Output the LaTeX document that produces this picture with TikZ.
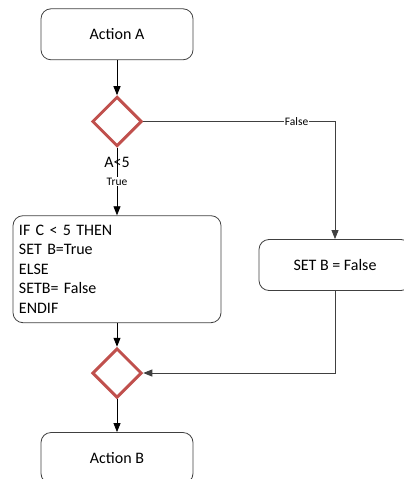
\documentclass[tikz,border=0pt]{standalone}
\usepackage{fontspec}
\setmainfont{Carlito}
\usetikzlibrary{shapes.geometric,arrows.meta,positioning}
\definecolor{ddred}{HTML}{C0504D}

\begin{document}
\begin{tikzpicture}[x=1bp,y=-1bp,on grid,>={Triangle[length=9bp,width=7bp]},
    font=\fontsize{16bp}{19.5bp}\selectfont,
    action/.style={draw=black!75,line width=0.8bp,rounded corners=10bp,
        minimum width=152bp,minimum height=51bp,inner sep=0pt},
    decision/.style={diamond,draw=ddred,line width=3bp,
        minimum width=49.5bp,minimum height=49.5bp,inner sep=0pt},
    small/.style={font=\fontsize{11.5bp}{13bp}\selectfont,fill=white,inner sep=1bp}]
                        % \draw[help lines] (0,0) grid (403,479);
                        \useasboundingbox (0,0) rectangle (403,479);

                        \node[action]   (A) at (117,34.3)          {Action A};
                        \node[decision] (d1) [below=87.2bp of A]   {};
                        \node           (cond) [below=41bp of d1]  {A<5};
                        \node[action,text width=196bp,inner xsep=6bp,align=left,minimum height=107bp]
                                        (if) [below=147.7bp of d1] {IF C < 5 THEN\\SET B=True\\ELSE\\SETB= False\\ENDIF};
                        \node[decision] (d2) [below=103.8bp of if] {};
                        \node[action]   (B) [below=85bp of d2]     {Action B};
                        \node[action]   (setf) at (335,265)        {SET B = False};

                        \path[->,line width=0.8bp]
                            (A)  edge (d1)
                            (d1) edge node[small] {True} (if)
                            (if) edge (d2)
                            (d2) edge (B);
                        \draw[->,line width=0.8bp,black!75]
                            (d1) -| node[small,pos=0.4,text=black] {False} (setf);
                        \draw[->,line width=0.8bp,black!75]
                            (setf) |- (d2);
                    \end{tikzpicture}
\end{document}
